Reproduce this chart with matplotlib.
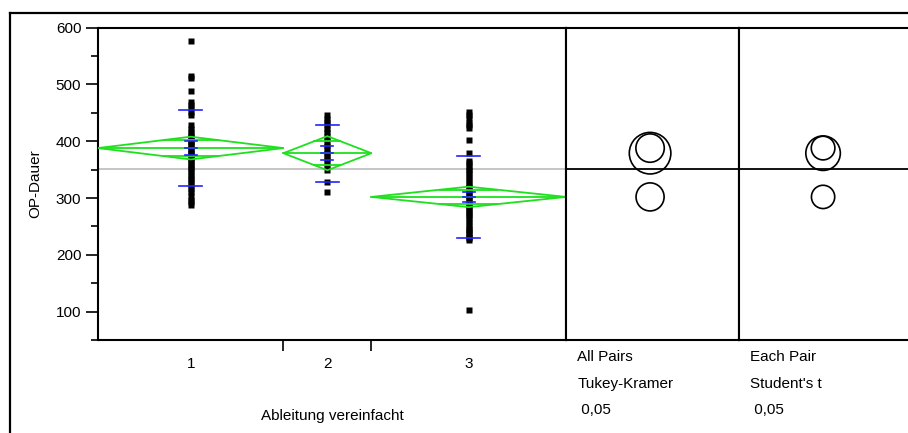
import numpy as np
import matplotlib
matplotlib.use("Agg")
import matplotlib.pyplot as plt
from matplotlib.patches import Ellipse, Polygon
from matplotlib.lines import Line2D

plt.rcParams['font.family'] = ['Liberation Sans', 'DejaVu Sans']
plt.rcParams['font.size'] = 11

# data
groups = ['1', '2', '3']
op_dauer_1 = [576, 515, 511, 489, 470, 464, 458, 452, 447, 428, 422, 416, 411, 407,
              403, 399, 395, 391, 387, 383, 379, 375, 371, 367, 363, 359, 355, 351,
              346, 341, 336, 331, 326, 321, 316, 311, 303, 297, 293, 288]
op_dauer_2 = [446, 440, 434, 428, 422, 416, 410, 404, 398, 392, 386, 380, 374, 368,
              362, 356, 350, 329, 311]
op_dauer_3 = [452, 446, 441, 433, 428, 424, 402, 380, 366, 361, 357, 352, 347, 342,
              337, 332, 327, 322, 317, 312, 308, 304, 300, 296, 292, 288, 284, 280,
              276, 272, 268, 263, 258, 253, 248, 244, 240, 236, 232, 229, 226, 102]
means = [388, 379, 302]
ci_half = [20, 30, 18]
se = [13, 12.5, 9]
sd = [67, 50, 71.5]
grand_mean = 351
tukey_r = [25, 36.6, 24.7]
student_r = [20.8, 30.4, 20.5]

points = [op_dauer_1, op_dauer_2, op_dauer_3]
green = '#1ee01e'
blue = '#2222ff'

W, H = 908, 433
fig = plt.figure(figsize=(W / 100, H / 100), dpi=100)

def frac(x0, x1, ytop, ybot):
    return [x0 / W, 1 - ybot / H, (x1 - x0) / W, (ybot - ytop) / H]

ytop, ybot = 27.7, 340
ax1 = fig.add_axes(frac(98, 566, ytop, ybot))
ax2 = fig.add_axes(frac(566, 739, ytop, ybot))
ax3 = fig.add_axes(frac(739, 912, ytop, ybot))

ylim = (50, 600)
for ax in (ax1, ax2, ax3):
    ax.set_ylim(*ylim)
    for s in ax.spines.values():
        s.set_linewidth(1.5)
ax3.spines['right'].set_visible(False)

# outer frame
fig.add_artist(Line2D([10 / W, 10 / W], [0, 1 - 13 / H], color='black', lw=1.6))
fig.add_artist(Line2D([10 / W, 1], [1 - 13 / H, 1 - 13 / H], color='black', lw=1.6))

# oneway panel
counts = [len(p) for p in points]
bounds = np.concatenate([[0], np.cumsum(counts)])
centers = (bounds[:-1] + bounds[1:]) / 2
ax1.set_xlim(bounds[0], bounds[-1])

ax1.axhline(grand_mean, color='#bbbbbb', lw=1.2, zorder=1)

for i in range(3):
    l, r, c = bounds[i], bounds[i + 1], centers[i]
    m, h = means[i], ci_half[i]
    ax1.add_patch(Polygon([[l, m], [c, m + h], [r, m], [c, m - h]], closed=True,
                          fill=False, edgecolor=green, lw=1.3, zorder=3))
    ax1.plot([l, r], [m, m], color=green, lw=1.3, zorder=3)
    ov = h / np.sqrt(2)
    half = (r - l) / 2 * (1 - ov / h)
    for y in (m + ov, m - ov):
        ax1.plot([c - half, c + half], [y, y], color=green, lw=1.3, zorder=3)

    ax1.plot(np.full(len(points[i]), c), points[i], 's', color='black',
             ms=3.7, mec='none', zorder=2)

    pw = (bounds[-1] - bounds[0]) / 468.0
    ax1.plot([c, c], [m - se[i], m + se[i]], color=blue, lw=1.2, zorder=1.5)
    for y in (m - se[i], m, m + se[i]):
        ax1.plot([c - 6 * pw, c + 6 * pw], [y, y], color=blue, lw=1.2, zorder=4)
    for y in (m - sd[i], m + sd[i]):
        ax1.plot([c - 11.5 * pw, c + 11.5 * pw], [y, y], color=blue, lw=1.2, zorder=4)

ax1.set_yticks(np.arange(100, 601, 100))
ax1.set_yticks(np.arange(50, 601, 50), minor=True)
ax1.tick_params(axis='y', which='major', length=9, width=1.2, pad=3, labelsize=11)
ax1.tick_params(axis='y', which='minor', length=5, width=1.2)
ax1.set_xticks(bounds[1:-1])
ax1.set_xticklabels([])
ax1.set_xticks(centers, minor=True)
ax1.set_xticklabels(groups, minor=True)
ax1.tick_params(axis='x', which='major', length=8, width=1.2)
ax1.tick_params(axis='x', which='minor', length=0, pad=12.5, labelsize=11)
ax1.set_ylabel('OP-Dauer', fontsize=11, labelpad=10)
ax1.set_xlabel('Ableitung vereinfacht', fontsize=11, labelpad=27)

# comparison circles
px_per_unit = (ybot - ytop) / (ylim[1] - ylim[0])
for ax, radii, lines in ((ax2, tukey_r, ['All Pairs', 'Tukey-Kramer', ' 0,05']),
                         (ax3, student_r, ['Each Pair', "Student's t", ' 0,05'])):
    ax.set_xlim(0, 1)
    ax.set_xticks([])
    ax.set_yticks([])
    ax.axhline(grand_mean, color='black', lw=1.3, zorder=1)
    for m, rr in zip(means, radii):
        wx = 2 * rr * px_per_unit / 173.0
        ax.add_patch(Ellipse((0.486, m), wx, 2 * rr, fill=False,
                             edgecolor='black', lw=1.2, zorder=2))
    for k, t in enumerate(lines):
        ax.text(0.065, -0.055 - k * 0.085, t, transform=ax.transAxes,
                ha='left', va='center', fontsize=11)

fig.savefig('out.png', dpi=100)
